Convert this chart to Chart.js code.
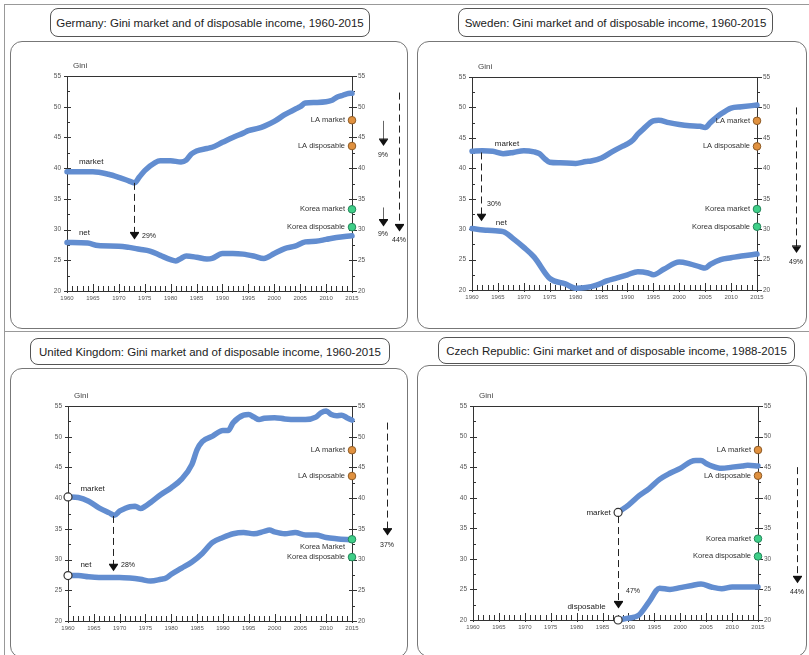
<!DOCTYPE html>
<html>
<head>
<meta charset="utf-8">
<script src="https://cdn.jsdelivr.net/npm/chart.js@4.4.1/dist/chart.umd.min.js"></script>
<style>
  html, body { margin: 0; padding: 0; background: #fff; }
  body { width: 809px; height: 655px; overflow: hidden; position: relative;
         font-family: "Liberation Sans", Arial, sans-serif; }
  .frame { position: absolute; border: 1px solid #777; border-radius: 12px; box-sizing: border-box; }
  .title { position: absolute; border: 1px solid #555; border-radius: 8px; box-sizing: border-box;
           font-size: 11.5px; color: #222; display: flex; align-items: center; justify-content: center;
           white-space: nowrap; background: #fff; }
  .holder { position: absolute; }
  .holder canvas { position: absolute; left: 0; top: 0; }
  .rule { position: absolute; background: #999; }
</style>
</head>
<body>
<div class="rule" style="left:4px;top:4px;width:805px;height:1px;"></div>
<div class="rule" style="left:4px;top:4px;width:1px;height:651px;"></div>
<div class="rule" style="left:4px;top:331px;width:805px;height:1px;"></div>
<div id="root"></div>
<script>
// ---- axis ticks ----
const yTickValues = [20, 25, 30, 35, 40, 45, 50, 55];
const xTickYears = [1960, 1965, 1970, 1975, 1980, 1985, 1990, 1995, 2000, 2005, 2010, 2015];

// ---- reference points (latest year) ----
const laValues = [47.8, 43.6];
const koreaValues = [33.3, 30.4];
const laLabels = ['LA market', 'LA disposable'];
const koreaLabels = ['Korea market', 'Korea disposable'];
const ukKoreaLabels = ['Korea Market', 'Korea disposable'];

// ---- Germany ----
const deMarketYears = [1960,1965,1968,1970,1972,1973,1974,1975,1977,1978,1980,1982,1983,1984,1985,1987,1988,1990,1992,1994,1995,1997,1998,2000,2002,2004,2005,2006,2008,2010,2011,2012,2013,2014,2015];
const deMarket = [39.4,39.4,39.0,38.5,37.9,37.6,38.6,39.6,40.9,41.2,41.2,41.0,41.3,42.3,42.8,43.2,43.4,44.2,45.0,45.7,46.1,46.5,46.8,47.6,48.7,49.6,50.0,50.6,50.7,50.8,51.0,51.5,51.8,52.1,52.2];
const deNetYears = [1960,1964,1966,1970,1972,1974,1976,1978,1980,1981,1982,1983,1985,1987,1988,1990,1992,1994,1996,1998,2000,2002,2004,2006,2008,2010,2012,2015];
const deNet = [27.9,27.8,27.4,27.3,27.1,26.8,26.5,25.8,25.1,24.9,25.3,25.7,25.5,25.2,25.3,26.1,26.1,26.0,25.7,25.3,26.1,26.9,27.3,28.0,28.1,28.4,28.7,29.0];

// ---- Sweden ----
const seMarketYears = [1960,1962,1964,1966,1968,1970,1972,1973,1974,1975,1977,1980,1982,1983,1985,1987,1989,1990,1991,1992,1993,1995,1996,1998,2000,2002,2004,2005,2006,2008,2010,2012,2015];
const seMarket = [42.8,42.9,42.8,42.4,42.6,42.9,42.7,42.4,41.6,41.0,40.9,40.8,41.1,41.2,41.7,42.7,43.6,44.0,44.6,45.6,46.4,47.8,47.9,47.5,47.2,47.0,46.9,46.7,47.5,48.9,49.9,50.1,50.4];
const seNetYears = [1960,1963,1966,1968,1970,1972,1975,1978,1980,1982,1984,1986,1988,1990,1992,1994,1995,1997,2000,2002,2004,2005,2006,2008,2010,2012,2015];
const seNet = [30.1,29.8,29.6,28.4,27.0,25.4,21.9,21.0,20.3,20.4,20.8,21.5,22.0,22.5,23.0,22.8,22.5,23.4,24.6,24.3,23.8,23.6,24.2,25.0,25.3,25.6,25.9];

// ---- United Kingdom ----
const ukMarketYears = [1960,1962,1964,1966,1968,1969,1970,1971,1972,1973,1974,1975,1976,1978,1980,1982,1984,1985,1986,1988,1990,1991,1992,1994,1995,1996,1997,1998,2000,2002,2004,2006,2008,2009,2010,2011,2012,2013,2014,2015];
const ukMarket = [40.2,40.1,39.5,38.4,37.6,37.2,37.9,38.3,38.6,38.7,38.3,38.7,39.3,40.6,41.7,43.1,45.5,47.9,49.2,50.1,51.0,51.0,52.3,53.5,53.6,53.2,52.8,53.0,53.1,52.9,52.8,52.8,53.2,53.9,54.2,53.6,53.4,53.5,53.1,52.7];
const ukNetYears = [1960,1962,1964,1966,1968,1970,1972,1974,1976,1978,1979,1980,1982,1984,1986,1988,1990,1992,1994,1996,1998,1999,2000,2002,2004,2006,2008,2010,2012,2015];
const ukNet = [27.4,27.4,27.2,27.1,27.1,27.1,27.0,26.8,26.5,26.8,27.0,27.6,28.6,29.6,31.0,32.8,33.6,34.2,34.4,34.2,34.6,34.8,34.5,34.2,34.4,34.0,34.0,33.6,33.4,33.2];

// ---- Czech Republic ----
const czMarketYears = [1988,1990,1992,1994,1996,1998,2000,2002,2003,2004,2005,2006,2008,2010,2012,2013,2015];
const czMarket = [37.6,38.8,40.3,41.5,43.0,44.0,44.8,45.9,46.1,46.1,45.6,45.2,44.8,45.0,45.2,45.3,45.2];
const czDispYears = [1988,1990,1992,1994,1996,1998,2000,2002,2004,2006,2008,2010,2012,2015];
const czDisp = [20.0,20.3,20.8,23.0,25.2,25.0,25.3,25.6,25.9,25.4,25.1,25.4,25.4,25.4];

const LINE_BLUE = 'rgb(98,141,208)';
const FONT = '"Liberation Sans", Arial, sans-serif';

function pairs(xs, ys) { return xs.map((x, i) => ({ x, y: ys[i] })); }

// Panel layout: frame rectangle, plot rectangle (page pixels), title and annotations
const panels = [
  {
    title: 'Germany: Gini market and of disposable income, 1960-2015',
    titleBox: [50, 8, 320, 29],
    frame: [10, 41, 398, 288],
    area: [67, 76, 352, 291],
    market: pairs(deMarketYears, deMarket), net: pairs(deNetYears, deNet), openStart: false,
    korea: koreaLabels,
    koreaLabelShift: [0, 0],
    lineLabels: [
      { text: 'market', x: 1962.3, y: 41.0, align: 'left' },
      { text: 'net', x: 1962.3, y: 29.4, align: 'left' }
    ],
    arrows: [
      { year: 1973, from: 37.6, to: 28.4, dash: true, text: '29%', tdx: 6, ty: 29.0, align: 'left' },
      { dx: 31, from: 47.7, to: 43.6, dash: false, text: '9%', tdx: 0, ty: 42.2, align: 'center' },
      { dx: 31, from: 33.6, to: 30.5, dash: false, text: '9%', tdx: 0, ty: 29.3, align: 'center' },
      { dx: 47, from: 52.3, to: 29.7, dash: true, text: '44%', tdx: 0, ty: 28.3, align: 'center' }
    ]
  },
  {
    title: 'Sweden: Gini market and of disposable income, 1960-2015',
    titleBox: [458, 8, 315, 29],
    frame: [417, 41, 390, 288],
    area: [472, 77, 757, 290],
    market: pairs(seMarketYears, seMarket), net: pairs(seNetYears, seNet), openStart: false,
    korea: koreaLabels,
    koreaLabelShift: [0, 0],
    lineLabels: [
      { text: 'market', x: 1964.4, y: 44.0, align: 'left' },
      { text: 'net', x: 1964.6, y: 31.1, align: 'left' }
    ],
    arrows: [
      { year: 1961.8, from: 42.6, to: 31.3, dash: true, text: '30%', tdx: 4, ty: 34.2, align: 'left' },
      { dx: 39, from: 50.0, to: 26.1, dash: true, text: '49%', tdx: 0, ty: 24.6, align: 'center' }
    ]
  },
  {
    title: 'United Kingdom: Gini market and of disposable income, 1960-2015',
    titleBox: [30, 338, 360, 27],
    frame: [10, 368, 398, 290],
    area: [68, 406, 352, 621],
    market: pairs(ukMarketYears, ukMarket), net: pairs(ukNetYears, ukNet), openStart: true,
    korea: ukKoreaLabels,
    koreaLabelShift: [8, 0],
    lineLabels: [
      { text: 'market', x: 1962.4, y: 41.5, align: 'left' },
      { text: 'net', x: 1962.4, y: 29.1, align: 'left' }
    ],
    arrows: [
      { year: 1968.8, from: 37.1, to: 28.1, dash: true, text: '28%', tdx: 6, ty: 29.1, align: 'left' },
      { dx: 35, from: 52.3, to: 33.9, dash: true, text: '37%', tdx: 0, ty: 32.3, align: 'center' }
    ]
  },
  {
    title: 'Czech Republic: Gini market and of disposable income, 1988-2015',
    titleBox: [438, 337, 357, 27],
    frame: [417, 365, 390, 292],
    area: [473, 406, 758, 620],
    market: pairs(czMarketYears, czMarket), net: pairs(czDispYears, czDisp), openStart: true,
    korea: koreaLabels,
    koreaLabelShift: [0, 0],
    lineLabels: [
      { text: 'market', x: 1986.6, y: 37.6, align: 'right' },
      { text: 'disposable', x: 1985.6, y: 22.2, align: 'right' }
    ],
    arrows: [
      { year: 1988, from: 37.0, to: 21.9, dash: true, text: '47%', tdx: 6, ty: 24.7, align: 'left' },
      { dx: 39, from: 45.0, to: 26.0, dash: true, text: '44%', tdx: 0, ty: 24.6, align: 'center' }
    ]
  }
];

function drawArrow(ctx, x, y1, y2, dashed) {
  ctx.save();
  ctx.strokeStyle = dashed ? '#222' : '#666';
  ctx.lineWidth = 1;
  if (dashed) ctx.setLineDash([7, 4]);
  ctx.beginPath();
  ctx.moveTo(x + 0.5, y1);
  ctx.lineTo(x + 0.5, y2 - 6);
  ctx.stroke();
  ctx.setLineDash([]);
  ctx.fillStyle = '#111';
  ctx.beginPath();
  ctx.moveTo(x + 0.5 - 4.5, y2 - 6.5);
  ctx.lineTo(x + 0.5 + 4.5, y2 - 6.5);
  ctx.lineTo(x + 0.5, y2);
  ctx.closePath();
  ctx.fill();
  ctx.fillRect(x + 0.5 - 4.5, y2 - 7.5, 9, 1.2);
  ctx.restore();
}

const frameDecor = {
  id: 'frameDecor',
  beforeDatasetsDraw(chart) {
    const { ctx, chartArea: a, scales } = chart;
    const xs = scales.x, yl = scales.y, yr = scales.y2;
    ctx.save();
    ctx.strokeStyle = '#333';
    ctx.lineWidth = 1;
    // top border of the plot box
    ctx.beginPath();
    ctx.moveTo(a.left, Math.round(a.top) + 0.5);
    ctx.lineTo(a.right, Math.round(a.top) + 0.5);
    ctx.stroke();
    // yearly ticks on the x axis
    ctx.beginPath();
    for (let yr0 = xs.min; yr0 <= xs.max; yr0++) {
      const px = Math.round(xs.getPixelForValue(yr0)) + 0.5;
      const major = yr0 % 5 === 0;
      ctx.moveTo(px, a.bottom + (major ? 2 : 0));
      ctx.lineTo(px, a.bottom - (major ? 7 : 5));
    }
    // ticks every 2.5 on both y axes
    for (let v = yl.min; v <= yl.max + 0.001; v += 2.5) {
      const major = Math.abs(v % 5) < 0.001;
      const py = Math.round(yl.getPixelForValue(v)) + 0.5;
      ctx.moveTo(a.left - (major ? 3 : 0), py);
      ctx.lineTo(a.left + (major ? 4 : 3), py);
      const pr = Math.round(yr.getPixelForValue(v)) + 0.5;
      ctx.moveTo(a.right - (major ? 3 : 0), pr);
      ctx.lineTo(a.right + (major ? 5 : 3), pr);
    }
    ctx.stroke();
    // "Gini" caption above the left axis
    ctx.fillStyle = '#444';
    ctx.font = '8px ' + FONT;
    ctx.textAlign = 'left';
    ctx.textBaseline = 'middle';
    ctx.fillText('Gini', a.left + 6, a.top - 10);
    ctx.restore();
  },
  afterDatasetsDraw(chart, args, opts) {
    const p = opts.panel;
    const { ctx, chartArea: a, scales } = chart;
    const xs = scales.x, ys = scales.y;
    ctx.save();
    // names of the reference points
    ctx.fillStyle = '#333';
    ctx.textAlign = 'right';
    ctx.textBaseline = 'middle';
    ctx.font = '7.5px ' + FONT;
    const laMeta = chart.getDatasetMeta(2), koMeta = chart.getDatasetMeta(3);
    laMeta.data.forEach((pt, i) => ctx.fillText(laLabels[i], pt.x - 7, pt.y));
    koMeta.data.forEach((pt, i) => ctx.fillText(p.korea[i], pt.x - 7, pt.y + p.koreaLabelShift[i]));
    // labels of the two lines
    ctx.font = '8px ' + FONT;
    ctx.fillStyle = '#222';
    p.lineLabels.forEach(l => {
      ctx.textAlign = l.align;
      ctx.fillText(l.text, xs.getPixelForValue(l.x), ys.getPixelForValue(l.y));
    });
    // redistribution arrows with their percentages
    ctx.font = '7px ' + FONT;
    p.arrows.forEach(ar => {
      const x = ar.year !== undefined ? Math.round(xs.getPixelForValue(ar.year)) : Math.round(a.right + ar.dx);
      drawArrow(ctx, x, ys.getPixelForValue(ar.from), ys.getPixelForValue(ar.to), ar.dash);
      ctx.fillStyle = '#222';
      ctx.textAlign = ar.align;
      ctx.fillText(ar.text, x + ar.tdx + (ar.align === 'left' ? 2 : 0), ys.getPixelForValue(ar.ty));
    });
    ctx.restore();
  }
};

const root = document.getElementById('root');

panels.forEach(p => {
  const [fx, fy, fw, fh] = p.frame;
  const [al, at, ar, ab] = p.area;

  const title = document.createElement('div');
  title.className = 'title';
  title.style.left = p.titleBox[0] + 'px';
  title.style.top = p.titleBox[1] + 'px';
  title.style.width = p.titleBox[2] + 'px';
  title.style.height = p.titleBox[3] + 'px';
  title.textContent = p.title;
  root.appendChild(title);

  const frame = document.createElement('div');
  frame.className = 'frame';
  Object.assign(frame.style, { left: fx + 'px', top: fy + 'px', width: fw + 'px', height: fh + 'px' });
  root.appendChild(frame);

  const holder = document.createElement('div');
  holder.className = 'holder';
  Object.assign(holder.style, { left: fx + 'px', top: fy + 'px', width: fw + 'px', height: fh + 'px' });
  const cv = document.createElement('canvas');
  cv.width = fw; cv.height = fh;
  cv.style.width = fw + 'px'; cv.style.height = fh + 'px';
  holder.appendChild(cv);
  root.appendChild(holder);

  const leftW = al - fx, rightW = fx + fw - ar, bottomH = fy + fh - ab, topPad = at - fy;
  const openRadius = ctx => (p.openStart && ctx.dataIndex === 0 ? 4 : 0);

  const yAxisCommon = {
    type: 'linear', min: 20, max: 55,
    grid: { display: false, drawTicks: false },
    border: { display: true, color: '#333', width: 1 },
    afterBuildTicks: s => { s.ticks = yTickValues.map(v => ({ value: v })); }
  };

  new Chart(cv, {
    type: 'line',
    data: {
      datasets: [
        { label: 'market', data: p.market, borderColor: LINE_BLUE, borderWidth: 5.5,
          pointRadius: openRadius, pointBackgroundColor: '#fff', pointBorderColor: '#333', pointBorderWidth: 1.2,
          cubicInterpolationMode: 'monotone', borderCapStyle: 'round', borderJoinStyle: 'round', clip: false, order: 2 },
        { label: 'net', data: p.net, borderColor: LINE_BLUE, borderWidth: 5.5,
          pointRadius: openRadius, pointBackgroundColor: '#fff', pointBorderColor: '#333', pointBorderWidth: 1.2,
          cubicInterpolationMode: 'monotone', borderCapStyle: 'round', borderJoinStyle: 'round', clip: false, order: 2 },
        { label: 'LA', type: 'scatter', data: laValues.map(v => ({ x: 2015, y: v })),
          pointRadius: 3.8, backgroundColor: '#e0913f', borderColor: '#8d5a25', borderWidth: 1, clip: false, order: 1 },
        { label: 'Korea', type: 'scatter', data: koreaValues.map(v => ({ x: 2015, y: v })),
          pointRadius: 3.8, backgroundColor: '#3fcf88', borderColor: '#23865a', borderWidth: 1, clip: false, order: 1 }
      ]
    },
    options: {
      responsive: false,
      animation: false,
      devicePixelRatio: 1,
      layout: { padding: { top: topPad, left: 0, right: 0, bottom: 0 } },
      plugins: { legend: { display: false }, tooltip: { enabled: false }, frameDecor: { panel: p } },
      scales: {
        x: {
          type: 'linear', min: 1960, max: 2015,
          grid: { display: false, drawTicks: false },
          border: { display: true, color: '#333', width: 1 },
          afterBuildTicks: s => { s.ticks = xTickYears.map(v => ({ value: v })); },
          ticks: { color: '#555', font: { size: 6, family: FONT }, padding: 4, maxRotation: 0, autoSkip: false,
                   callback: v => String(v) },
          afterFit: s => { s.height = bottomH; }
        },
        y: Object.assign({}, yAxisCommon, {
          position: 'left',
          ticks: { color: '#555', font: { size: 6.5, family: FONT }, padding: 6 },
          afterFit: s => { s.width = leftW; }
        }),
        y2: Object.assign({}, yAxisCommon, {
          position: 'right',
          ticks: { color: '#555', font: { size: 6.5, family: FONT }, padding: 6 },
          afterFit: s => { s.width = rightW; }
        })
      }
    },
    plugins: [frameDecor]
  });
});
</script>
</body>
</html>
